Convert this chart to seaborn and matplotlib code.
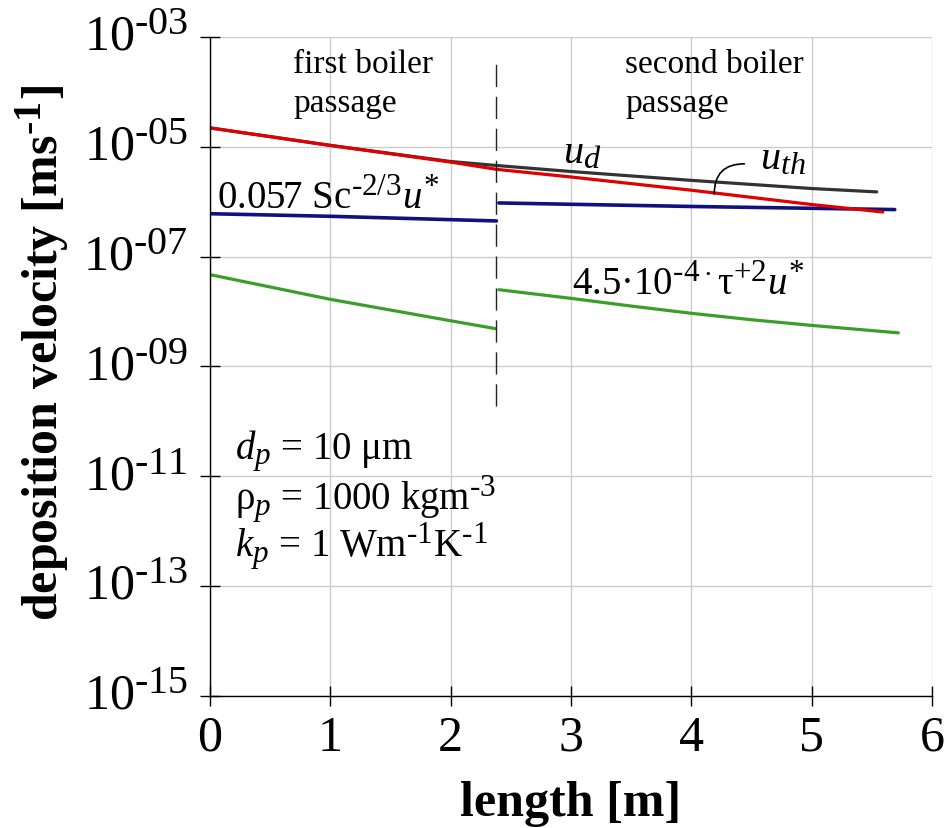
import matplotlib
matplotlib.use("Agg")
import numpy as np
import pandas as pd
import seaborn as sns
import matplotlib.pyplot as plt
import matplotlib._mathtext as mathtext_engine
from matplotlib.ticker import FixedLocator, FuncFormatter
from matplotlib.transforms import ScaledTranslation

sns.set_theme(style="white")
plt.rcParams["font.family"] = ["Liberation Serif", "DejaVu Serif"]
plt.rcParams.update({
    "mathtext.fontset": "custom",
    "mathtext.rm": "Liberation Serif",
    "mathtext.it": "Liberation Serif:italic",
    "mathtext.bf": "Liberation Serif:bold",
    "text.color": "black",
    "axes.labelcolor": "black",
    "xtick.color": "black",
    "ytick.color": "black",
})
# slightly larger super/subscripts than the mathtext default
mathtext_engine.SHRINK_FACTOR = 0.8

# ---- data -------------------------------------------------------------
boundary = 2.38          # end of the first boiler passage [m]

# total deposition velocity u_d
x_ud = [0.0, 1.0, 2.0, 2.38, 3.0, 4.0, 5.0, 5.54]
u_d = [2.21e-5, 1.06e-5, 5.4e-6, 4.57e-6, 3.55e-6, 2.45e-6, 1.74e-6, 1.51e-6]

# thermophoretic velocity u_th
x_uth = [0.0, 1.0, 2.0, 2.38, 3.0, 4.0, 5.0, 5.59]
u_th = [2.21e-5, 1.06e-5, 5.27e-6, 3.89e-6, 2.82e-6, 1.62e-6, 8.9e-7, 6.5e-7]

# diffusion term 0.057 Sc^-2/3 u*
x_diff_1 = [0.0, 1.0, 2.38]
u_diff_1 = [6.05e-7, 5.43e-7, 4.47e-7]
x_diff_2 = [2.40, 4.0, 5.69]
u_diff_2 = [9.5e-7, 8.2e-7, 7.2e-7]

# eddy-impaction term 4.5e-4 tau+^2 u*
x_imp_1 = [0.0, 1.0, 2.0, 2.37]
u_imp_1 = [4.7e-8, 1.67e-8, 6.8e-9, 4.9e-9]
x_imp_2 = [2.40, 3.0, 3.5, 4.0, 4.5, 5.0, 5.72]
u_imp_2 = [2.5e-8, 1.74e-8, 1.26e-8, 9.3e-9, 7.1e-9, 5.6e-9, 4.1e-9]

x_ticks = [0, 1, 2, 3, 4, 5, 6]
y_exponents = [-3, -5, -7, -9, -11, -13, -15]
divider_span = (4.3e-4, 1.9e-10)

# ---- figure -----------------------------------------------------------
fig = plt.figure(figsize=(9.5, 8.29), dpi=100)
ax = fig.add_axes([0.2211, 0.1592, 0.7600, 0.7950])

lw = 2.3
black, red, navy, green = "#333333", "#e00000", "#101080", "#3a9e2a"

sns.lineplot(x=x_ud, y=u_d, color=black, lw=lw, ax=ax, legend=False)
sns.lineplot(x=x_diff_1, y=u_diff_1, color=navy, lw=lw + 0.3, ax=ax, legend=False)
sns.lineplot(x=x_diff_2, y=u_diff_2, color=navy, lw=lw + 0.3, ax=ax, legend=False)
sns.lineplot(x=x_uth, y=u_th, color=red, lw=lw, ax=ax, legend=False)
sns.lineplot(x=x_imp_1, y=u_imp_1, color=green, lw=lw, ax=ax, legend=False)
sns.lineplot(x=x_imp_2, y=u_imp_2, color=green, lw=lw, ax=ax, legend=False)

ax.vlines(boundary, divider_span[1], divider_span[0], colors="#222222",
          lw=1.0, linestyles=(0, (16, 7)))

ax.set_yscale("log")
ax.set_xlim(0, 6)
ax.set_ylim(1e-15, 1e-3)
ax.xaxis.set_major_locator(FixedLocator(x_ticks))
ax.yaxis.set_major_locator(FixedLocator([10.0 ** e for e in y_exponents]))
ax.yaxis.set_minor_locator(FixedLocator([]))
ax.yaxis.set_major_formatter(FuncFormatter(
    lambda v, pos: r"$10^{\text{-%02d}}$" % round(-np.log10(v))))
ax.xaxis.set_major_formatter(FuncFormatter(lambda v, pos: "%d" % v))

ax.grid(True, color="#cccccc", lw=1.0)
ax.set_axisbelow(True)
for side in ("top", "right"):
    ax.spines[side].set_visible(False)
for side in ("left", "bottom"):
    ax.spines[side].set_color("black")
    ax.spines[side].set_linewidth(1.0)

ax.tick_params(axis="both", which="major", direction="inout", length=14,
               width=1, color="black", labelsize=36, labelcolor="black",
               bottom=True, left=True)
ax.tick_params(axis="y", pad=9)
ax.tick_params(axis="x", pad=6)

# lift the y tick labels a little so the "10" sits on the tick
lift = ScaledTranslation(0, 5 / 100, fig.dpi_scale_trans)
for lab in ax.get_yticklabels():
    lab.set_transform(lab.get_transform() + lift)

ax.set_xlabel("length [m]", fontsize=36, fontweight="bold", labelpad=14)
ax.set_ylabel(r"deposition velocity [ms$^{\mathbf{\text{-}1}}$]",
              fontsize=36, fontweight="bold")
ax.yaxis.set_label_coords(-0.193, 0.522)

# ---- annotations ------------------------------------------------------
ax.text(0.69, 10 ** -3.636, "first boiler", fontsize=24, va="baseline")
ax.text(0.69, 10 ** -4.34, "passage", fontsize=24, va="baseline")
ax.text(3.45, 10 ** -3.636, "second boiler", fontsize=24, va="baseline")
ax.text(3.45, 10 ** -4.34, "passage", fontsize=24, va="baseline")

ax.text(2.93, 10 ** -5.278, r"$u_d$", fontsize=29, va="baseline")
ax.text(4.57, 10 ** -5.40, r"$u_{th}$", fontsize=29, va="baseline")
ax.annotate("", xy=(4.19, 10 ** -5.86), xytext=(4.44, 10 ** -5.31),
            arrowprops=dict(arrowstyle="-", color="black", lw=1.2,
                            connectionstyle="angle3,angleA=0,angleB=90",
                            shrinkA=0, shrinkB=0))

ax.text(0.056, 10 ** -6.115, r"0.057 Sc$^{\text{-2/3}}u^{*}$",
        fontsize=28, va="baseline")
ax.text(3.01, 10 ** -7.673, r"4.5·10$^{\text{-4}\cdot}$τ$^{+2}u^{*}$",
        fontsize=28, va="baseline")

ax.text(0.21, 10 ** -10.67, r"$d_p$ = 10 μm", fontsize=28, va="baseline")
ax.text(0.21, 10 ** -11.58, r"ρ$_p$ = 1000 kgm$^{\text{-3}}$",
        fontsize=28, va="baseline")
ax.text(0.21, 10 ** -12.43, r"$k_p$ = 1 Wm$^{\text{-1}}$K$^{\text{-1}}$",
        fontsize=28, va="baseline")

fig.savefig("out.png", dpi=100)
